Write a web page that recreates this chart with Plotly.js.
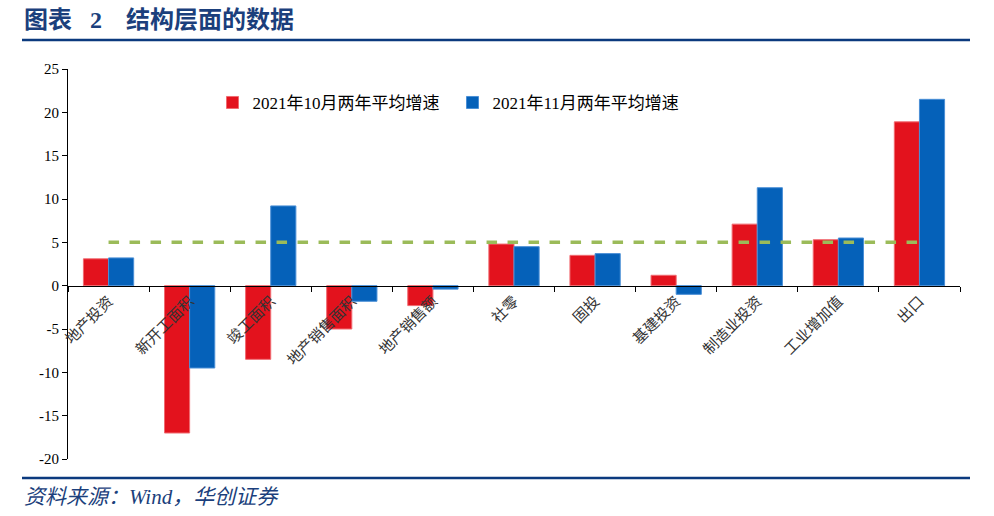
<!DOCTYPE html>
<html><head><meta charset="utf-8">
<script src="https://cdn.plot.ly/plotly-3.0.1.min.js"></script>
<style>html,body{margin:0;padding:0;background:#fff}</style>
</head><body>
<div id="chart" style="width:994px;height:516px"></div>
<script>
var categories = ["地产投资","新开工面积","竣工面积","地产销售面积","地产销售额","社零","固投","基建投资","制造业投资","工业增加值","出口"];
var oct2021 = [3.1, -17.0, -8.5, -5.0, -2.3, 4.8, 3.5, 1.2, 7.1, 5.3, 18.9];
var nov2021 = [3.2, -9.5, 9.2, -1.8, -0.4, 4.5, 3.7, -1.0, 11.3, 5.5, 21.5];
var refLevel = categories.map(function(){ return 5; });
var seriesNames = ["2021年10月两年平均增速","2021年11月两年平均增速"];
var yTicks = [-20,-15,-10,-5,0,5,10,15,20,25];
var yTickText = yTicks.map(function(v){ return String(v); });

var serif = "Liberation Serif, 'Noto Sans CJK SC', serif";
var traces = [
  {type:"bar", name:seriesNames[0], x:categories, y:oct2021,
   marker:{color:"#E3121D", line:{color:"#F06A70", width:1}}},
  {type:"bar", name:seriesNames[1], x:categories, y:nov2021,
   marker:{color:"#0561B9", line:{color:"#4A8FD6", width:1}}},
  {type:"scatter", mode:"lines", x:categories, y:refLevel, showlegend:false,
   line:{color:"#9BBB59", width:3.5, dash:"dash"}, hoverinfo:"skip"}
];
var layout = {
  width:994, height:516,
  margin:{l:68, r:34, t:69, b:57},
  paper_bgcolor:"#fff", plot_bgcolor:"#fff",
  barmode:"group", bargap:0.38, bargroupgap:0,
  font:{family:serif, size:14, color:"#000"},
  showlegend:true,
  legend:{orientation:"h", x:0.162, y:0.913, xanchor:"left", yanchor:"middle",
          font:{family:serif, size:17, color:"#000"}, itemwidth:30,
          entrywidth:195, entrywidthmode:"pixels", bgcolor:"rgba(0,0,0,0)"},
  xaxis:{type:"category", anchor:"free", position:20/45, showline:true, linecolor:"#000", linewidth:1,
         ticks:"outside", tickson:"boundaries", ticklen:5, tickcolor:"#000", tickangle:-45,
         showgrid:false, zeroline:false, tickfont:{family:serif, size:15, color:"#333"}},
  yaxis:{range:[-20,25], tickvals:yTicks, ticktext:yTickText, showline:true, linecolor:"#000", linewidth:1,
         ticks:"outside", ticklen:5, tickcolor:"#000", showgrid:false, zeroline:false,
         tickfont:{family:serif, size:15, color:"#000"}},
  shapes:[
    {type:"line", xref:"paper", yref:"paper", x0:-46/892, x1:902/892, y0:(516-57-40)/390, y1:(516-57-40)/390,
     line:{color:"#0B3A7E", width:2.5}},
    {type:"line", xref:"paper", yref:"paper", x0:-46/892, x1:902/892, y0:(459-478)/390, y1:(459-478)/390,
     line:{color:"#0B3A7E", width:2.5}}
  ],
  annotations:[
    {xref:"paper", yref:"paper", x:-46/892, y:(459-20)/390, xanchor:"left", yanchor:"middle", showarrow:false,
     text:"<b>图表&nbsp;&nbsp;&nbsp;2　结构层面的数据</b>", font:{family:serif, size:24, color:"#1B3F7C"}},
    {xref:"paper", yref:"paper", x:-46/892, y:(459-497)/390, xanchor:"left", yanchor:"middle", showarrow:false,
     text:"<i>资料来源：Wind，华创证券</i>", font:{family:serif, size:21, color:"#1B3F7C"}}
  ]
};
Plotly.newPlot("chart", traces, layout, {displayModeBar:false, staticPlot:true});
</script>
</body></html>
